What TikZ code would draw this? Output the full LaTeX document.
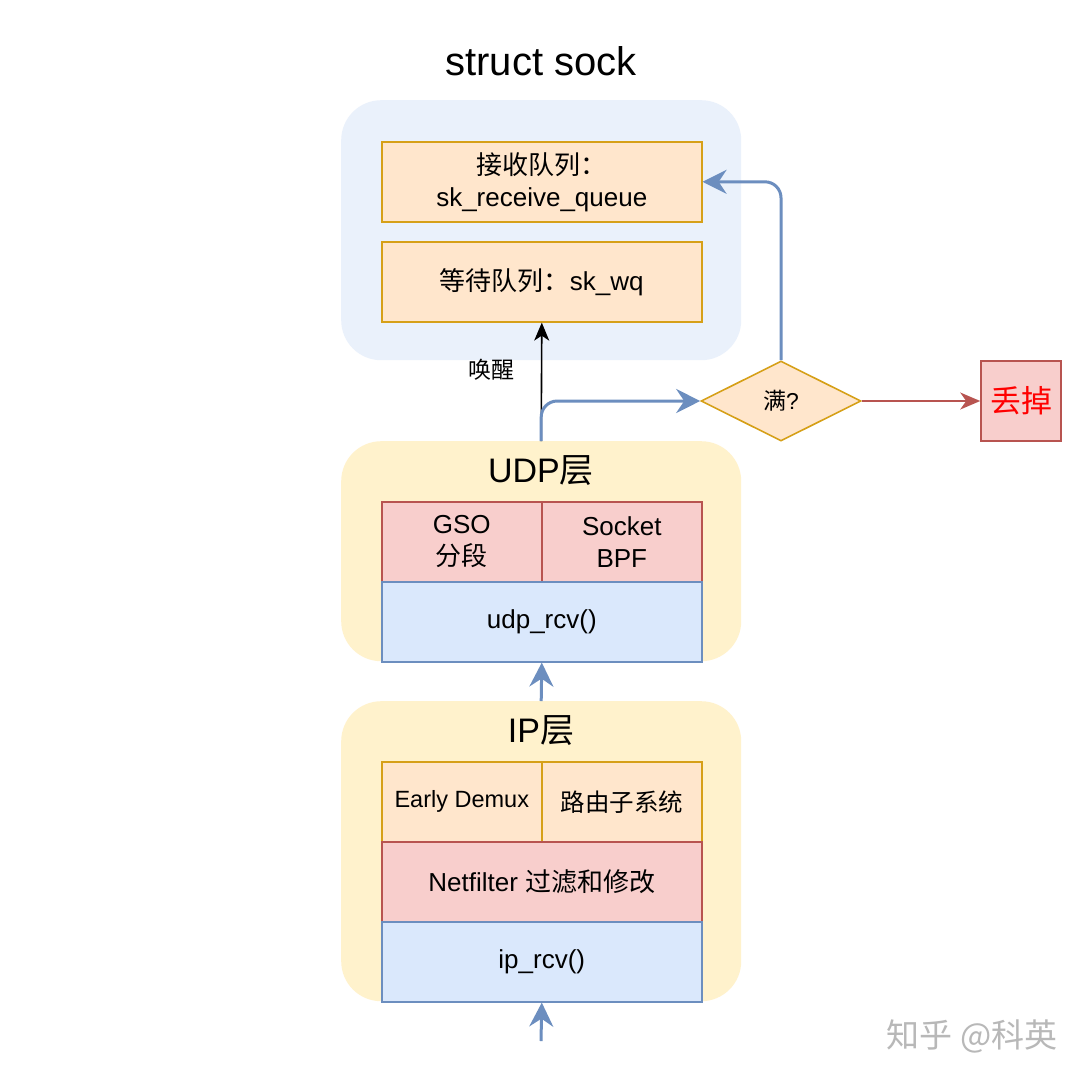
\documentclass[tikz,border=0pt]{standalone}
\usepackage{fontspec}
\setmainfont{Liberation Sans}
\newfontfamily\cjk{Noto Sans CJK SC}
\usetikzlibrary{arrows.meta,shapes.geometric}
\definecolor{sockfill}{HTML}{EAF1FB}
\definecolor{layerfill}{HTML}{FFF2CC}
\definecolor{orfill}{HTML}{FFE6CC}
\definecolor{ordraw}{HTML}{D6A018}
\definecolor{rdfill}{HTML}{F8CECC}
\definecolor{rddraw}{HTML}{B85450}
\definecolor{blfill}{HTML}{DAE8FC}
\definecolor{bldraw}{HTML}{6C8EBF}
\begin{document}
\begin{tikzpicture}[x=1pt,y=-1pt,
  container/.style={rounded corners=40pt, inner sep=0pt, anchor=north west},
  cell/.style={draw, line width=1.6pt, inner sep=0pt, anchor=north west, align=center,
    font=\fontsize{26}{32}\selectfont},
  orbox/.style={cell, fill=orfill, draw=ordraw},
  rdbox/.style={cell, fill=rdfill, draw=rddraw},
  blbox/.style={cell, fill=blfill, draw=bldraw},
  title/.style={font=\fontsize{34}{40}\selectfont},
  bluearrow/.style={draw=bldraw, line width=3pt, -{Stealth[length=24pt,width=24pt,inset=8pt]}},
]
\useasboundingbox (0,0) rectangle (1084,1080);
\fill[white] (0,0) rectangle (1084,1080);

% struct sock
\node[font=\fontsize{40}{46}\selectfont] (socktitle) at (541,61) {struct sock};
\node[container, fill=sockfill, minimum width=400pt, minimum height=260pt] (sock) at (341,100) {};
\node[orbox, minimum width=320pt, minimum height=80pt] (rq) at (381,141) {{\cjk 接收队列：}\\sk\_receive\_queue};
\node[orbox, minimum width=320pt, minimum height=80pt] (wq) at (381,241) {{\cjk 等待队列：}sk\_wq};

% UDP layer
\node[container, fill=layerfill, minimum width=400pt, minimum height=220pt] (udp) at (341,441) {};
\node[title] (udptitle) at (541,471) {UDP{\cjk 层}};
\node[rdbox, minimum width=160pt, minimum height=80pt] (gso) at (381,501) {GSO\\{\cjk 分段}};
\node[rdbox, minimum width=160pt, minimum height=80pt] (bpf) at (541,501) {Socket\\BPF};
\node[blbox, minimum width=320pt, minimum height=80pt] (udprcv) at (381,581) {udp\_rcv()};

% IP layer
\node[container, fill=layerfill, minimum width=400pt, minimum height=300pt] (ipl) at (341,701) {};
\node[title] (iptitle) at (541,731) {IP{\cjk 层}};
\node[orbox, minimum width=160pt, minimum height=80pt, font=\fontsize{23.5}{28}\selectfont] (demux) at (381,761) {Early Demux};
\node[orbox, minimum width=160pt, minimum height=80pt, font=\fontsize{24.5}{28}\selectfont] (route) at (541,761) {\cjk 路由子系统};
\node[rdbox, minimum width=320pt, minimum height=80pt] (nf) at (381,841) {Netfilter {\cjk 过滤和修改}};
\node[blbox, minimum width=320pt, minimum height=80pt] (iprcv) at (381,921) {ip\_rcv()};

% decision
\node[diamond, draw=ordraw, fill=orfill, line width=1.6pt, minimum width=160pt, minimum height=80pt,
  inner sep=0pt, font=\fontsize{23}{26}\selectfont] (full) at (781,401) {{\cjk 满}?};
\node[draw=rddraw, fill=rdfill, line width=1.6pt, minimum width=80pt, minimum height=80pt, inner sep=0pt,
  text=red, font=\fontsize{31}{34}\selectfont\cjk] (drop) at (1021,401) {丢掉};

% connectors
\draw[line width=1.6pt, -{Stealth[length=18pt,width=15pt,inset=5pt]}] (udp.north) -- (wq.south);
\node[font=\fontsize{23}{26}\selectfont\cjk] (wake) at (491,370) {唤醒};
\draw[bluearrow, rounded corners=16pt] (udp.north) |- (full.west);
\draw[bluearrow, rounded corners=16pt] (full.north) |- (rq.east);
\draw[draw=rddraw, line width=1.6pt, -{Stealth[length=20pt,width=17pt,inset=6pt]}] (full.east) -- (drop.west);
\draw[bluearrow] (ipl.north) -- (udprcv.south);
\coordinate (in) at (541,1041);
\draw[bluearrow] (in) -- (iprcv.south);

% watermark
\node[text=black!28, font=\fontsize{33}{36}\selectfont\cjk] (wm) at (972,1036) {知乎 @科英};
\end{tikzpicture}
\end{document}
